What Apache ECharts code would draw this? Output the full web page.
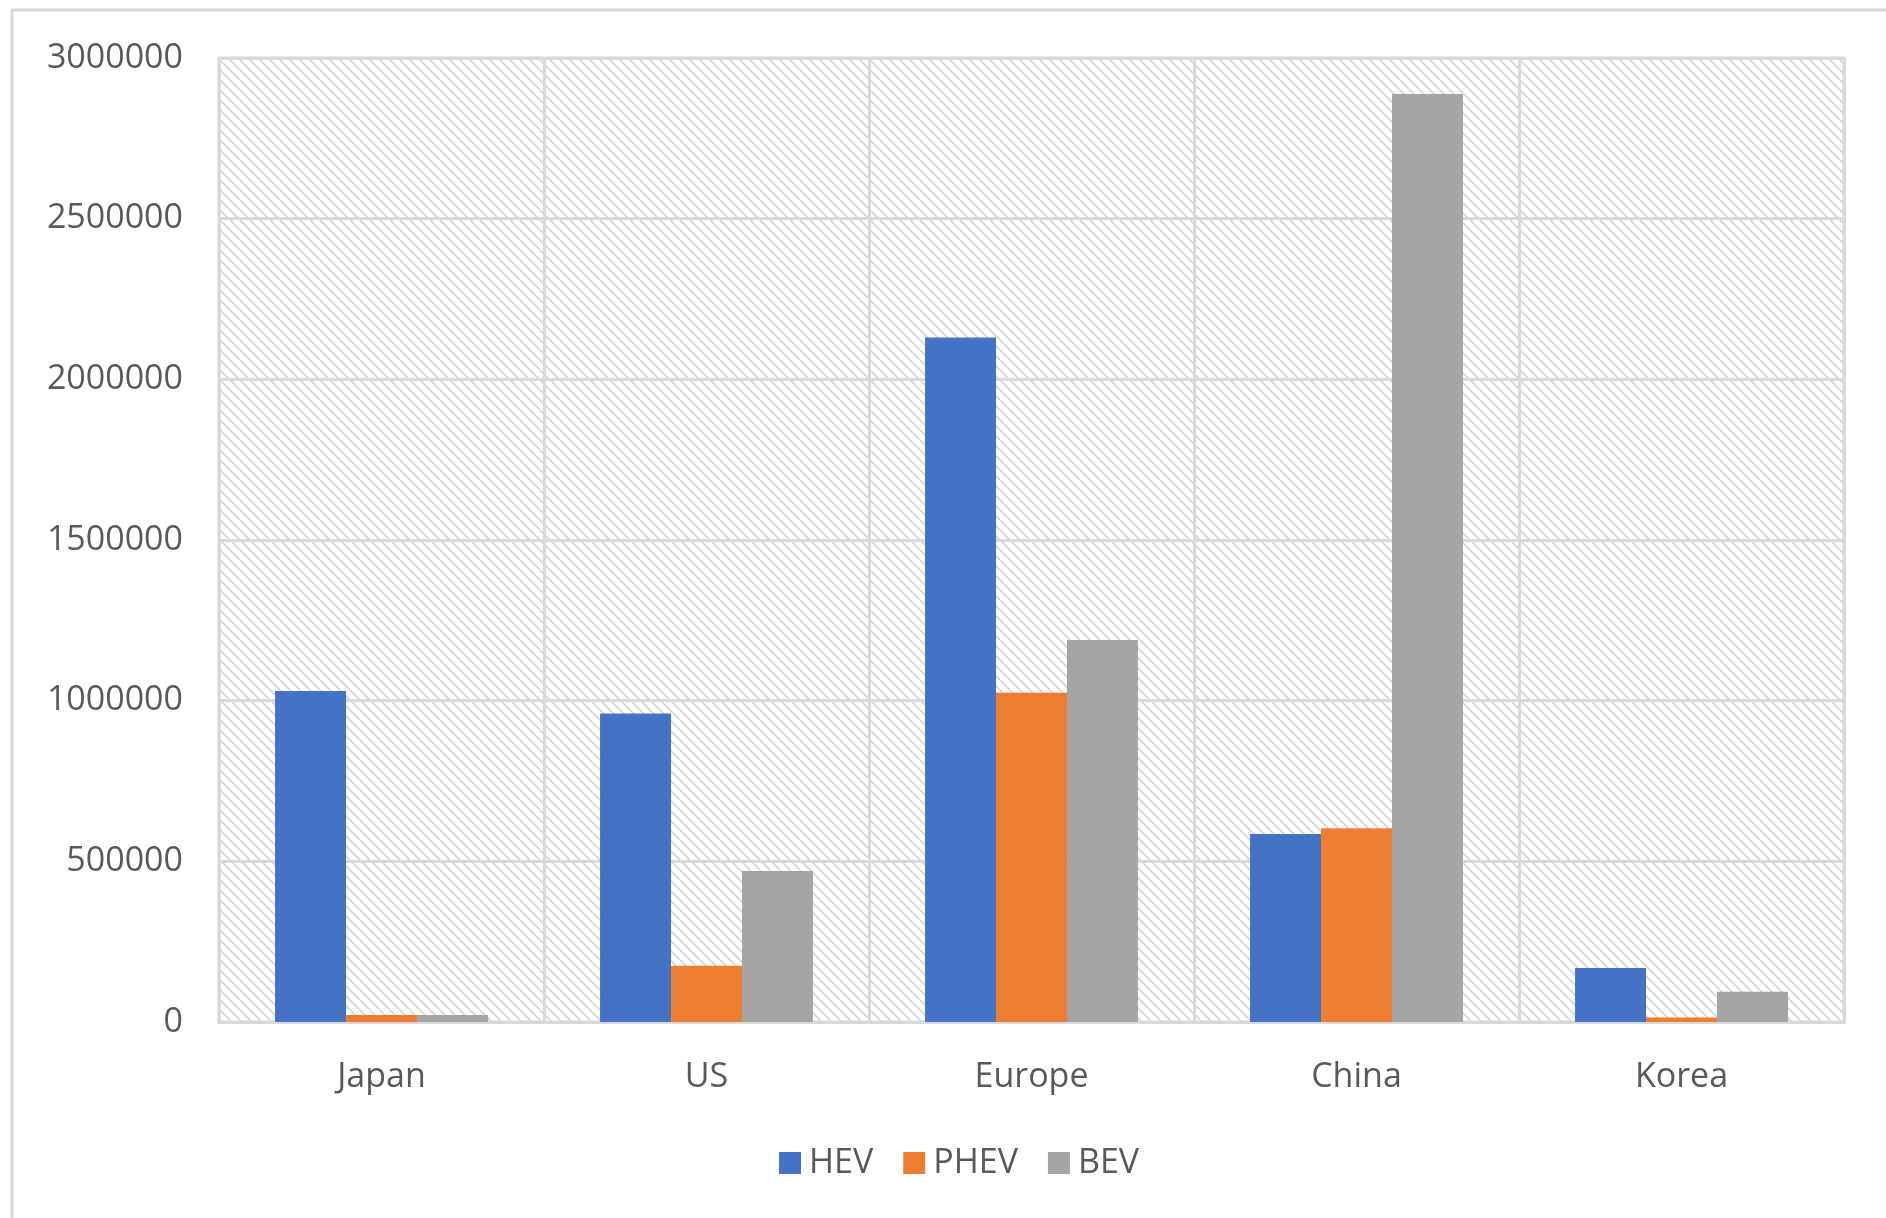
<!DOCTYPE html>
<html>
<head>
<meta charset="utf-8">
<title>HEV / PHEV / BEV by region</title>
<script src="https://cdn.jsdelivr.net/npm/echarts@6/dist/echarts.min.js"></script>
<style>
  html, body { margin: 0; padding: 0; background: #fff; }
  #chart { width: 1886px; height: 1218px; }
</style>
</head>
<body>
<div id="chart"></div>
<script>
const regions = ['Japan', 'US', 'Europe', 'China', 'Korea']
const hev = [1030000, 960000, 2130000, 585000, 168000]
const phev = [22000, 175000, 1025000, 603000, 14000]
const bev = [22000, 470000, 1189000, 2888000, 94000]

const textColor = '#595959'
const lineColor = '#d9d9d9'

// diagonal hatch for the plot area
function hatch() {
  const s = 10
  const c = document.createElement('canvas')
  c.width = s
  c.height = s
  const ctx = c.getContext('2d')
  ctx.fillStyle = '#ffffff'
  ctx.fillRect(0, 0, s, s)
  ctx.strokeStyle = '#d6d6d6'
  ctx.lineWidth = 1.8
  for (const k of [-s, 0, s]) {
    ctx.beginPath()
    ctx.moveTo(k, 0)
    ctx.lineTo(k + s, s)
    ctx.stroke()
  }
  return c
}

const chart = echarts.init(document.getElementById('chart'), null, { renderer: 'canvas' })

const barSeries = (name, data, color) => ({
  name,
  type: 'bar',
  data,
  barGap: '0%',
  barCategoryGap: '34.5%',
  itemStyle: { color },
  silent: true
})

chart.setOption({
  animation: false,
  textStyle: { fontFamily: 'Open Sans' },
  graphic: [{
    type: 'rect',
    shape: { x: 12, y: 10, width: 2000, height: 2000 },
    style: { fill: null, stroke: lineColor, lineWidth: 3 },
    silent: true
  }],
  grid: {
    left: 219,
    right: 42,
    top: 58,
    bottom: 196,
    show: true,
    backgroundColor: { image: hatch(), repeat: 'repeat' },
    borderColor: lineColor,
    borderWidth: 3
  },
  legend: {
    left: 774,
    top: 1141,
    itemWidth: 22,
    itemHeight: 22,
    itemGap: 30,
    icon: 'rect',
    data: ['HEV', 'PHEV', 'BEV'],
    textStyle: { color: textColor, fontSize: 34, fontFamily: 'Open Sans', padding: [0, 0, 0, 3] }
  },
  xAxis: {
    type: 'category',
    data: regions,
    axisLine: { lineStyle: { color: lineColor, width: 3 } },
    axisTick: { show: false },
    splitLine: { show: true, lineStyle: { color: lineColor, width: 3 } },
    axisLabel: { color: textColor, fontSize: 34, margin: 38 }
  },
  yAxis: {
    type: 'value',
    min: 0,
    max: 3000000,
    interval: 500000,
    axisLine: { show: false },
    axisTick: { show: false },
    splitLine: { lineStyle: { color: lineColor, width: 3 } },
    axisLabel: {
      color: textColor,
      fontSize: 34,
      margin: 36,
      formatter: v => String(v)
    }
  },
  series: [
    barSeries('HEV', hev, '#4472c4'),
    barSeries('PHEV', phev, '#ed7d31'),
    barSeries('BEV', bev, '#a5a5a5')
  ]
})
</script>
</body>
</html>
